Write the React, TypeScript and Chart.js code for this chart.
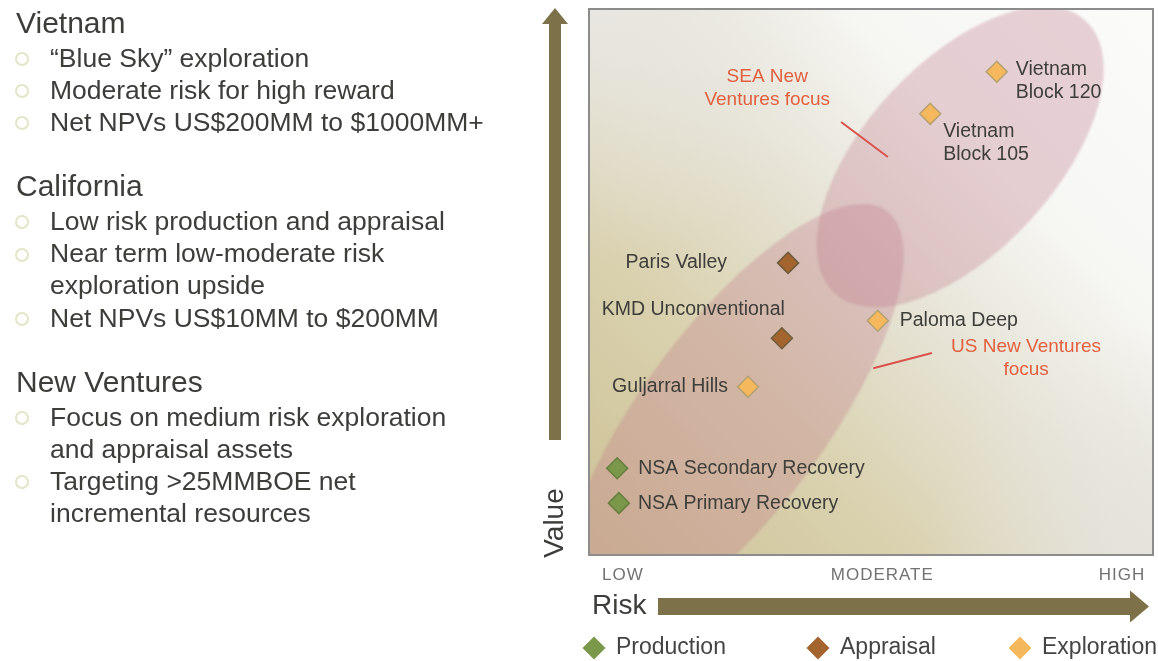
import React, { useEffect, useRef } from 'react';
import { Chart, registerables } from 'chart.js';

Chart.register(...registerables);

// ---- Portfolio data: risk on x (0–100), value on y (0–100) ----
const productionAssets = ['NSA Secondary Recovery', 'NSA Primary Recovery'];
const productionRisk = [5.0, 5.3];
const productionValue = [15.9, 9.5];

const appraisalAssets = ['Paris Valley', 'KMD Unconventional'];
const appraisalRisk = [35.3, 34.2];
const appraisalValue = [53.5, 39.7];

const explorationAssets = ['Vietnam\nBlock 120', 'Vietnam\nBlock 105', 'Paloma Deep', 'Guljarral Hills'];
const explorationRisk = [72.3, 60.5, 51.2, 28.2];
const explorationValue = [88.5, 80.8, 42.9, 30.8];

const riskTickValues = [6, 52, 94.5];
const riskTickLabels = ['LOW', 'MODERATE', 'HIGH'];

// Focus areas (ellipses), in risk/value units
const focusLabels = [['SEA New', 'Ventures focus'], ['US New Ventures', 'focus']];
const focusCenterRisk = [65.8, 25.6];
const focusCenterValue = [72.9, 25.05];
const focusTipRisk = [88.1, 52.8];
const focusTipValue = [97.8, 63.0];
const focusWidthRatio = [0.51, 0.357];
const focusLabelRisk = [31.6, 77.5];
const focusLabelValue = [87.5, 38.1];
const leaderFromRisk = [44.7, 60.8];
const leaderFromValue = [79.3, 37.0];
const leaderToRisk = [53.0, 50.4];
const leaderToValue = [72.9, 34.2];

// Left-hand summary text
const sectionTitles = ['Vietnam', 'California', 'New Ventures'];
const vietnamPoints = ['“Blue Sky” exploration', 'Moderate risk for high reward', 'Net NPVs US$200MM to $1000MM+'];
const californiaPoints = [
  'Low risk production and appraisal',
  'Near term low-moderate risk\nexploration upside',
  'Net NPVs US$10MM to $200MM',
];
const newVenturesPoints = [
  'Focus on medium risk exploration\nand appraisal assets',
  'Targeting >25MMBOE net\nincremental resources',
];
const sectionPoints = [vietnamPoints, californiaPoints, newVenturesPoints];

// ---- Styling ----
const FONT = '"Liberation Sans", Arial, Helvetica, sans-serif';
const TEXT = '#3d3d3a';
const RED = '#e2603f';
const OLIVE = '#7c7148';

const seriesStyle = [
  { name: 'Production', fill: '#7a974a', stroke: '#687f3f' },
  { name: 'Appraisal', fill: '#a3642d', stroke: '#6f5c3c' },
  { name: 'Exploration', fill: '#f5b85c', stroke: '#b4a173' },
];

// label anchor relative to each marker (pixels)
const labelPlacement: Record<string, { dx: number; dy: number; align: CanvasTextAlign }> = {
  'Vietnam\nBlock 120': { dx: 19, dy: -2, align: 'left' },
  'Vietnam\nBlock 105': { dx: 13, dy: 18, align: 'left' },
  'Paloma Deep': { dx: 22, dy: 0, align: 'left' },
  'Guljarral Hills': { dx: -20, dy: 0, align: 'right' },
  'Paris Valley': { dx: -61, dy: 0, align: 'right' },
  'KMD Unconventional': { dx: 3, dy: -29, align: 'right' },
  'NSA Secondary Recovery': { dx: 21, dy: 0, align: 'left' },
  'NSA Primary Recovery': { dx: 19, dy: 0, align: 'left' },
};

const legendX = [594, 818, 1020];

function diamond(ctx: CanvasRenderingContext2D, x: number, y: number, r: number, fill: string, stroke?: string, lw = 0) {
  ctx.beginPath();
  ctx.moveTo(x, y - r);
  ctx.lineTo(x + r, y);
  ctx.lineTo(x, y + r);
  ctx.lineTo(x - r, y);
  ctx.closePath();
  ctx.fillStyle = fill;
  ctx.fill();
  if (stroke && lw) {
    ctx.strokeStyle = stroke;
    ctx.lineWidth = lw;
    ctx.stroke();
  }
}

const backdropPlugin = {
  id: 'portfolioBackdrop',
  beforeDatasetsDraw(chart: any) {
    const { ctx, chartArea: ca, scales } = chart;
    const xs = scales.x;
    const ys = scales.y;
    const w = ca.right - ca.left;
    const h = ca.bottom - ca.top;
    ctx.save();
    ctx.beginPath();
    ctx.rect(ca.left, ca.top, w, h);
    ctx.clip();

    // panel shading: warm tan lower-left fading to near white upper-right
    let g = ctx.createLinearGradient(ca.left, ca.bottom, ca.right, ca.top);
    g.addColorStop(0, '#cdc195');
    g.addColorStop(0.3, '#dad2b0');
    g.addColorStop(0.5, '#e5e2d3');
    g.addColorStop(0.72, '#f6f6f3');
    g.addColorStop(1, '#fbfbfa');
    ctx.fillStyle = g;
    ctx.fillRect(ca.left, ca.top, w, h);
    g = ctx.createRadialGradient(ca.left, ca.top, 0, ca.left, ca.top, 0.45 * w);
    g.addColorStop(0, 'rgba(232,231,227,0.85)');
    g.addColorStop(1, 'rgba(232,231,227,0)');
    ctx.fillStyle = g;
    ctx.fillRect(ca.left, ca.top, w, h);
    g = ctx.createRadialGradient(ca.right, ca.bottom, 0, ca.right, ca.bottom, 0.4 * w);
    g.addColorStop(0, 'rgba(228,227,222,0.8)');
    g.addColorStop(1, 'rgba(228,227,222,0)');
    ctx.fillStyle = g;
    ctx.fillRect(ca.left, ca.top, w, h);

    // focus ellipses (soft-edged)
    ctx.filter = 'blur(1px)';
    for (let i = 0; i < focusLabels.length; i++) {
      const cx = xs.getPixelForValue(focusCenterRisk[i]);
      const cy = ys.getPixelForValue(focusCenterValue[i]);
      const tx = xs.getPixelForValue(focusTipRisk[i]);
      const ty = ys.getPixelForValue(focusTipValue[i]);
      const a = Math.hypot(tx - cx, ty - cy);
      const ang = Math.atan2(ty - cy, tx - cx);
      ctx.beginPath();
      ctx.ellipse(cx, cy, a, a * focusWidthRatio[i], ang, 0, Math.PI * 2);
      ctx.fillStyle = 'rgba(194,122,140,0.32)';
      ctx.fill();
    }
    ctx.filter = 'none';
    ctx.restore();

    // frame
    ctx.save();
    ctx.strokeStyle = '#8c8c8c';
    ctx.lineWidth = 2;
    ctx.strokeRect(ca.left, ca.top, w, h);
    ctx.restore();

    // focus callouts
    ctx.save();
    ctx.font = `19px ${FONT}`;
    ctx.fillStyle = RED;
    ctx.textAlign = 'center';
    ctx.textBaseline = 'middle';
    for (let i = 0; i < focusLabels.length; i++) {
      const lx = xs.getPixelForValue(focusLabelRisk[i]);
      const ly = ys.getPixelForValue(focusLabelValue[i]);
      focusLabels[i].forEach((line, k) => ctx.fillText(line, lx, ly + k * 23));
      ctx.beginPath();
      ctx.moveTo(xs.getPixelForValue(leaderFromRisk[i]), ys.getPixelForValue(leaderFromValue[i]));
      ctx.lineTo(xs.getPixelForValue(leaderToRisk[i]), ys.getPixelForValue(leaderToValue[i]));
      ctx.strokeStyle = '#d9524c';
      ctx.lineWidth = 2;
      ctx.stroke();
    }
    ctx.restore();
  },
  afterDatasetsDraw(chart: any) {
    const { ctx } = chart;
    ctx.save();
    ctx.font = `19.5px ${FONT}`;
    ctx.fillStyle = TEXT;
    ctx.textBaseline = 'middle';
    chart.data.datasets.forEach((ds: any, di: number) => {
      const meta = chart.getDatasetMeta(di);
      meta.data.forEach((pt: any, i: number) => {
        const name: string = ds.assetNames[i];
        const p = labelPlacement[name] || { dx: 20, dy: 0, align: 'left' };
        ctx.textAlign = p.align;
        name.split('\n').forEach((line, k) => ctx.fillText(line, pt.x + p.dx, pt.y + p.dy + k * 23));
      });
    });
    ctx.restore();
  },
  afterDraw(chart: any) {
    const { ctx, chartArea: ca, scales } = chart;
    const xs = scales.x;
    ctx.save();
    ctx.fillStyle = OLIVE;

    // value arrow (vertical)
    const vx = 555;
    ctx.fillRect(vx - 6, ca.top + 14, 12, 440 - (ca.top + 14));
    ctx.beginPath();
    ctx.moveTo(vx - 13, ca.top + 15);
    ctx.lineTo(vx + 13, ca.top + 15);
    ctx.lineTo(vx, ca.top - 1);
    ctx.closePath();
    ctx.fill();

    // risk arrow (horizontal)
    const hy = 606.5;
    ctx.fillRect(658, hy - 8.5, 1131 - 658, 17);
    ctx.beginPath();
    ctx.moveTo(1130, hy - 16);
    ctx.lineTo(1149, hy);
    ctx.lineTo(1130, hy + 16);
    ctx.closePath();
    ctx.fill();

    // axis titles
    ctx.fillStyle = TEXT;
    ctx.font = `28px ${FONT}`;
    ctx.textAlign = 'left';
    ctx.textBaseline = 'alphabetic';
    ctx.fillText('Risk', 592, 614);
    ctx.save();
    ctx.translate(563, 523);
    ctx.rotate(-Math.PI / 2);
    ctx.textAlign = 'center';
    ctx.fillText('Value', 0, 0);
    ctx.restore();

    // risk level ticks
    ctx.font = `17px ${FONT}`;
    ctx.fillStyle = '#727272';
    ctx.textAlign = 'center';
    ctx.textBaseline = 'middle';
    (ctx as any).letterSpacing = '1px';
    riskTickValues.forEach((v, i) => ctx.fillText(riskTickLabels[i], xs.getPixelForValue(v), 575));
    (ctx as any).letterSpacing = '0px';

    // legend
    ctx.font = `23px ${FONT}`;
    ctx.textAlign = 'left';
    chart.data.datasets.forEach((ds: any, di: number) => {
      const lx = legendX[di];
      diamond(ctx, lx, 648, 11.5, ds.backgroundColor);
      ctx.fillStyle = '#444';
      ctx.fillText(ds.label, lx + 22, 648);
    });
    ctx.restore();
  },
};

function toPoints(xs: number[], ys: number[]) {
  return xs.map((x, i) => ({ x, y: ys[i] }));
}

function PortfolioChart() {
  const ref = useRef<HTMLCanvasElement | null>(null);
  useEffect(() => {
    if (!ref.current) return;
    const names = [productionAssets, appraisalAssets, explorationAssets];
    const pts = [
      toPoints(productionRisk, productionValue),
      toPoints(appraisalRisk, appraisalValue),
      toPoints(explorationRisk, explorationValue),
    ];
    const chart = new Chart(ref.current, {
      type: 'scatter',
      data: {
        datasets: seriesStyle.map((s, i) => ({
          label: s.name,
          data: pts[i],
          assetNames: names[i],
          backgroundColor: s.fill,
          borderColor: s.stroke,
          borderWidth: 1.5,
          pointStyle: 'rectRot',
          pointRadius: 10.5,
          pointHoverRadius: 10.5,
        })) as any,
      },
      options: {
        responsive: false,
        animation: false,
        events: [],
        layout: { autoPadding: false, padding: { left: 589, top: 9, right: 5, bottom: 106 } },
        scales: {
          x: { type: 'linear', min: 0, max: 100, display: false },
          y: { type: 'linear', min: 0, max: 100, display: false },
        },
        plugins: { legend: { display: false }, tooltip: { enabled: false } },
      },
      plugins: [backdropPlugin],
    });
    return () => chart.destroy();
  }, []);
  return <canvas ref={ref} width={1158} height={661} style={{ position: 'absolute', left: 0, top: 0 }} />;
}

function SummaryText() {
  const lines: { kind: 'title' | 'bullet' | 'cont'; text: string; base: number }[] = [];
  let base = 33;
  sectionTitles.forEach((title, si) => {
    if (si > 0) base += 65;
    lines.push({ kind: 'title', text: title, base });
    base += 34;
    sectionPoints[si].forEach((pt, pi) => {
      if (pi > 0) base += 32.2;
      pt.split('\n').forEach((t, k) => {
        if (k > 0) base += 32.2;
        lines.push({ kind: k === 0 ? 'bullet' : 'cont', text: t, base });
      });
    });
  });
  return (
    <div style={{ position: 'absolute', left: 0, top: 0, zIndex: 1 }}>
      {lines.map((l, i) => {
        const size = l.kind === 'title' ? 30 : 26.5;
        return (
          <React.Fragment key={i}>
            {l.kind === 'bullet' && (
              <span
                style={{
                  position: 'absolute',
                  left: 15,
                  top: l.base - 15,
                  width: 10,
                  height: 10,
                  borderRadius: '50%',
                  border: '2px solid #e3e6c6',
                }}
              />
            )}
            <div
              style={{
                position: 'absolute',
                left: l.kind === 'title' ? 16 : 50,
                top: l.base - size * 0.8465,
                fontFamily: FONT,
                fontSize: size,
                lineHeight: `${size}px`,
                color: TEXT,
                whiteSpace: 'nowrap',
              }}
            >
              {l.text}
            </div>
          </React.Fragment>
        );
      })}
    </div>
  );
}

export default function App() {
  return (
    <div style={{ position: 'fixed', left: 0, top: 0, width: 1158, height: 661, background: '#fff', overflow: 'hidden' }}>
      <PortfolioChart />
      <SummaryText />
    </div>
  );
}
